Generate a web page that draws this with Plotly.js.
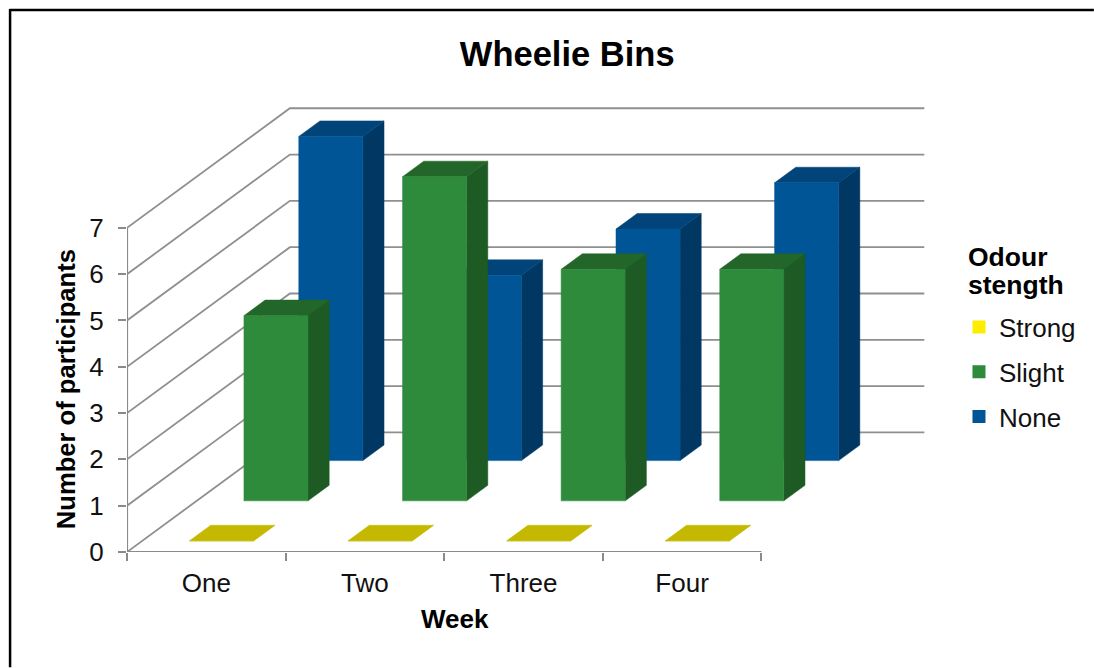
<!DOCTYPE html>
<html>
<head>
<meta charset="utf-8">
<script src="https://cdn.plot.ly/plotly-3.0.1.min.js"></script>
<style>html,body{margin:0;padding:0;background:#fff}#chart{width:1094px;height:668px}</style>
</head>
<body>
<div id="chart"></div>
<script>
// ---- Data ----
const weeks = ["One", "Two", "Three", "Four"];
const strong = [0, 0, 0, 0];
const slight = [4, 7, 5, 5];
const none = [7, 4, 5, 6];
const yTicks = [0, 1, 2, 3, 4, 5, 6, 7];

// ---- Pixel frame of the front plane ----
const L = 126.5, R = 930, T = 100, B = 552.5;
const pxPerCat = 158.7, pxPerVal = 46.36;
const fontFam = '"Liberation Sans", Arial, sans-serif';

// ---- Oblique projection (depth 0 = front, 1 = back wall) ----
const shiftX = 163 / pxPerCat, shiftY = 119.7 / pxPerVal;
const px = (c, v, d) => [c + d * shiftX, v + d * shiftY];
const barInset = 0.298, barWidth = 0.404, barDepth = 0.13;
const rowStart = [0.0936, 0.4277, 0.7644];

function polys(values, row, face) {
  const xs = [], ys = [];
  values.forEach((v, i) => {
    const c0 = i + barInset, c1 = c0 + barWidth;
    const d0 = rowStart[row], d1 = d0 + barDepth;
    const pts = {
      front: [[c0, 0, d0], [c1, 0, d0], [c1, v, d0], [c0, v, d0]],
      top:   [[c0, v, d0], [c1, v, d0], [c1, v, d1], [c0, v, d1]],
      side:  [[c1, 0, d0], [c1, 0, d1], [c1, v, d1], [c1, v, d0]]
    }[face];
    pts.concat([pts[0]]).forEach(p => {
      const q = px(p[0], p[1], p[2]);
      xs.push(q[0]); ys.push(q[1]);
    });
    xs.push(null); ys.push(null);
  });
  return { x: xs, y: ys };
}

function faceTrace(values, row, face, color) {
  const g = polys(values, row, face);
  return {
    type: "scatter", mode: "lines", x: g.x, y: g.y, fill: "toself",
    fillcolor: color, line: { color: color, width: 0.5 },
    showlegend: false, hoverinfo: "skip", cliponaxis: false
  };
}

// Grid: left wall diagonals + back wall lines
const gridX = [], gridY = [];
yTicks.forEach(v => {
  [[0, v, 0], [0, v, 1], [weeks.length, v, 1]].forEach(p => {
    const q = px(p[0], p[1], p[2]);
    gridX.push(q[0]); gridY.push(q[1]);
  });
  gridX.push(null); gridY.push(null);
});
const gridTrace = {
  type: "scatter", mode: "lines", x: gridX, y: gridY,
  line: { color: "#8f8f8f", width: 1.8 }, showlegend: false,
  hoverinfo: "skip", cliponaxis: false
};
const axisTrace = {
  type: "scatter", mode: "lines",
  x: [0, 0, null, 0, weeks.length],
  y: [0, yTicks[yTicks.length - 1], null, 0, 0],
  line: { color: "#8a8a8a", width: 2.2 }, showlegend: false,
  hoverinfo: "skip", cliponaxis: false
};

const series = [
  { name: "None", values: none, row: 2, front: "#005596", top: "#004479", side: "#003763" },
  { name: "Slight", values: slight, row: 1, front: "#2e8b3b", top: "#236629", side: "#1d5a24" },
  { name: "Strong", values: strong, row: 0, front: "#c4b900", top: "#c4b900", side: "#c4b900" }
];
const legendColors = { Strong: "#ffed00", Slight: "#2e8b3b", None: "#005596" };

const traces = [gridTrace];
series.forEach(s => {
  traces.push(faceTrace(s.values, s.row, "side", s.side));
  traces.push(faceTrace(s.values, s.row, "top", s.top));
  traces.push(faceTrace(s.values, s.row, "front", s.front));
});
traces.push(axisTrace);
["Strong", "Slight", "None"].forEach(n => {
  traces.push({
    type: "scatter", mode: "markers", name: n, legendgroup: n,
    x: [null], y: [null], hoverinfo: "skip",
    marker: { symbol: "square", size: 13, color: legendColors[n] }
  });
});

const paperX = p => (p - L) / (R - L);
const paperY = p => (B - p) / (B - T);

const layout = {
  width: 1094, height: 668,
  paper_bgcolor: "#fff", plot_bgcolor: "rgba(0,0,0,0)",
  margin: { l: L, r: 1094 - R, t: T, b: 668 - B, pad: 0 },
  font: { family: fontFam, color: "#000", size: 25 },
  title: {
    text: "<b>Wheelie Bins</b>", font: { size: 34.5, family: fontFam, color: "#000" },
    xref: "paper", yref: "container", x: paperX(567), xanchor: "center",
    y: 1 - 54 / 668, yanchor: "middle"
  },
  xaxis: {
    range: [0, (R - L) / pxPerCat], showgrid: false, zeroline: false, showline: false,
    tickmode: "array", tickvals: weeks.map((w, i) => i + 0.5), ticktext: weeks,
    ticks: "", ticklabelstandoff: 13, tickfont: { size: 26, family: fontFam, color: "#111" },
    minor: { tickmode: "array", tickvals: weeks.map((w, i) => i).concat([weeks.length]),
             ticks: "outside", ticklen: 8, tickwidth: 2, tickcolor: "#8a8a8a", showgrid: false }
  },
  yaxis: {
    range: [0, (B - T) / pxPerVal], showgrid: false, zeroline: false, showline: false,
    tickmode: "array", tickvals: yTicks, ticks: "outside", ticklen: 8, tickwidth: 2,
    tickcolor: "#8a8a8a", ticklabelstandoff: 9, tickfont: { size: 26, family: fontFam, color: "#111" }
  },
  legend: {
    x: paperX(966), xanchor: "left", y: paperY(229), yanchor: "top",
    bgcolor: "rgba(0,0,0,0)", traceorder: "grouped", tracegroupgap: 8, indentation: -7,
    itemclick: false, itemdoubleclick: false,
    font: { size: 26, family: fontFam, color: "#111" },
    title: { text: '<b> <br> <br> <br><span style="font-size:26.5px">Odour</span><br> <br> <br><span style="font-size:26.5px">stength</span><br> </b>',
             font: { size: 7.18, family: fontFam, color: "#000" } }
  },
  annotations: [
    { text: "<b>Number of participants</b>", xref: "paper", yref: "paper",
      x: paperX(65), y: paperY(390), textangle: -90, showarrow: false,
      xanchor: "center", yanchor: "middle", font: { size: 25.6, family: fontFam, color: "#000" } },
    { text: "<b>Week</b>", xref: "paper", yref: "paper",
      x: paperX(455), y: paperY(620), showarrow: false,
      xanchor: "center", yanchor: "middle", font: { size: 26, family: fontFam, color: "#000" } }
  ],
  shapes: [
    { type: "line", xref: "paper", yref: "paper", x0: paperX(9), y0: paperY(10), x1: paperX(1094), y1: paperY(10),
      line: { color: "#000", width: 2.5 } },
    { type: "line", xref: "paper", yref: "paper", x0: paperX(9.5), y0: paperY(9), x1: paperX(9.5), y1: paperY(668),
      line: { color: "#000", width: 2.5 } }
  ]
};

Plotly.newPlot("chart", traces, layout, { displayModeBar: false, responsive: false });
</script>
</body>
</html>
